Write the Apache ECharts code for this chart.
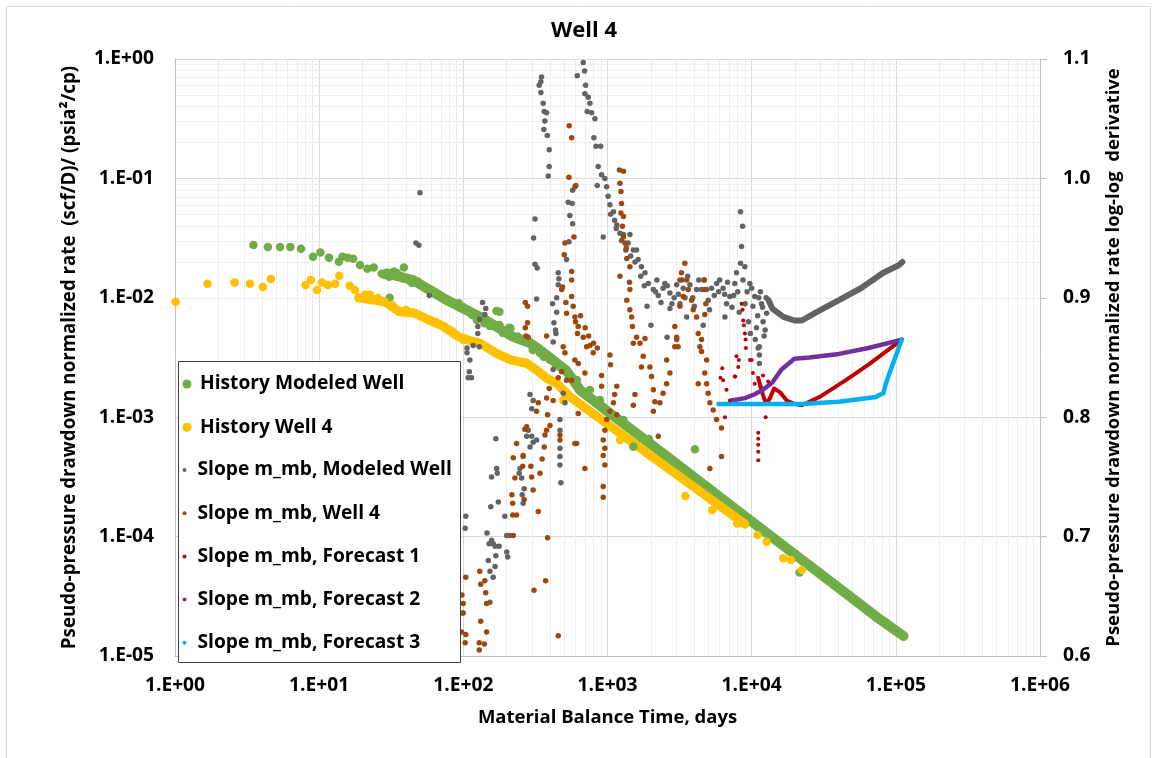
<!DOCTYPE html>
<html><head><meta charset="utf-8">
<script src="https://cdn.jsdelivr.net/npm/echarts@6/dist/echarts.min.js"></script>
<style>html,body{margin:0;padding:0;background:#fff}#c{width:1157px;height:758px}</style>
</head><body><div id="c"></div>
<script>
const chartTitle = 'Well 4';
const xTickLabels = ['1.E+00','1.E+01','1.E+02','1.E+03','1.E+04','1.E+05','1.E+06'];
const yTickLabels = ['1.E-05','1.E-04','1.E-03','1.E-02','1.E-01','1.E+00'];
const rightTickLabels = ['0.6','0.7','0.8','0.9','1.0','1.1'];
const xTitle = 'Material Balance Time, days';
const yTitle = 'Pseudo-pressure drawdown normalized rate  (scf/D)/ (psia\u00b2/cp)';
const y2Title = 'Pseudo-pressure drawdown normalized rate log-log  derivative';
const seriesNames = ['History Modeled Well','History Well 4','Slope m_mb, Modeled Well','Slope m_mb, Well 4','Slope m_mb, Forecast 1','Slope m_mb, Forecast 2','Slope m_mb, Forecast 3'];

// History Modeled Well (left axis): scattered points + dense band
const historyModeled = [[3.50,0.0277],[4.41,0.0266],[5.35,0.0266],[6.31,0.0266],[7.48,0.0258],[9.06,0.0221],[10.2,0.0239],[11.7,0.0217],[13.7,0.0200],[14.5,0.0221],[15.8,0.0217],[17.2,0.0212],[19.2,0.0188],[21.6,0.0175],[23.9,0.0179],[27.2,0.0159],[28.6,0.0155],[30.6,0.0150],[30.8,0.0100],[33.0,0.0166],[34.6,0.0161],[38.7,0.0179],[38.3,0.0145],[42.6,0.0138],[44.0,0.0133],[48.4,0.0136],[54.6,0.0120],[58.7,0.0116],[65.2,0.0109],[69.9,0.0104],[77.8,0.0096],[83.4,0.00922],[92.8,0.0090],[99.4,0.00838],[108,0.0079],[115,0.00718],[124,0.00652],[140,0.00611],[153,0.00581],[170,0.00775],[178,0.00765],[178,0.00592],[188,0.00507],[208,0.00562],[212,0.00556],[239,0.00472],[267,0.00443],[303,0.00366],[340,0.00345],[361,0.00321],[399,0.00301],[432,0.00283],[468,0.00263],[515,0.00248],[614,0.00205],[755,0.00169],[886,0.00139],[1290,0.000947],[1510,0.000566],[1940,0.000657],[4040,0.000538],[21500,0.0000500]];
const historyModeledBand = [[29.4,0.0160],[44.7,0.0141],[58.7,0.0116],[76.6,0.00959],[94.7,0.00842],[130,0.00695],[170,0.00573],[221,0.00472],[290,0.00418],[340,0.00366],[515,0.00248],[644,0.00169],[1040,0.00108],[1970,0.000601],[3730,0.000334],[7060,0.000185],[13400,0.000102],[22300,0.0000640],[40300,0.0000371],[72600,0.0000215],[113000,0.0000147]];

// History Well 4 (left axis)
const historyWell4 = [[1.01,0.00927],[1.68,0.0131],[2.59,0.0134],[3.31,0.0131],[4.07,0.0123],[4.63,0.0144],[8.05,0.0128],[8.75,0.0141],[9.66,0.0116],[10.45,0.0134],[11.5,0.0128],[12.9,0.0131],[13.8,0.0153],[16.3,0.0126],[17.7,0.0116],[18.8,0.0100],[20.8,0.0106],[22.5,0.0106],[25.6,0.00996],[28.5,0.00927],[32.0,0.00871],[36.1,0.00765],[40.0,0.00790],[45.7,0.00746],[50.0,0.00704],[57.8,0.00652],[64.6,0.00627],[73.4,0.00573],[83.4,0.00527],[92.8,0.00472],[100,0.00443],[493,0.00139],[679,0.00122],[1220,0.000644],[3470,0.000219],[5330,0.000167],[7920,0.000129],[11000,0.000103],[12700,0.0000906],[16600,0.0000658],[18700,0.0000637],[22300,0.0000525]];
const historyWell4Band = [[18.8,0.0100],[28.5,0.00927],[36.1,0.00765],[45.7,0.00746],[57.8,0.00652],[73.4,0.00573],[92.8,0.00472],[108,0.00443],[130,0.00418],[170,0.00343],[216,0.00301],[275,0.00283],[322,0.00248],[378,0.00212],[444,0.00192],[548,0.00149],[1040,0.000847],[1970,0.000482],[3730,0.000275],[7060,0.000157],[8970,0.000127]];

// Slope m_mb, Modeled Well (right axis)
const slopeModeled = [[50.0,0.988],[46.9,0.946],[49.2,0.944],[58.0,0.902],[136,0.896],[143,0.891],[130,0.882],[141,0.886],[126,0.876],[126,0.870],[106,0.858],[117,0.860],[129,0.859],[106,0.854],[111,0.848],[110,0.838],[108,0.833],[114,0.833],[168,0.782],[170,0.757],[157,0.750],[172,0.753],[175,0.729],[155,0.725],[104,0.717],[103,0.707],[146,0.703],[194,0.717],[200,0.701],[210,0.701],[157,0.697],[161,0.694],[166,0.692],[151,0.694],[177,0.692],[200,0.687],[203,0.683],[168,0.684],[149,0.680],[166,0.675],[153,0.671],[161,0.666],[153,0.645],[99.8,0.636],
[290,0.819],[305,0.814],[298,0.807],[282,0.789],[275,0.784],[298,0.784],[305,0.779],[322,0.781],[290,0.775],[260,0.767],[247,0.757],[244,0.753],[254,0.749],[264,0.740],[256,0.735],[260,0.728],[468,0.789],[468,0.774],[468,0.767],[468,0.760],[475,0.745],[468,0.798],[420,0.840],[493,0.820],[507,0.812],
[349,1.085],[345,1.081],[336,1.078],[345,1.072],[358,1.063],[364,1.056],[378,1.055],[368,1.048],[362,1.041],[382,1.036],[394,1.024],[394,1.010],[388,1.002],[314,0.966],[307,0.950],[314,0.928],[325,0.925],[322,0.899],[455,0.921],[460,0.916],[455,0.911],[444,0.900],[416,0.895],[444,0.888],[425,0.879],[439,0.870],[420,0.863],[436,0.873],
[617,1.086],[604,0.994],[573,0.990],[534,0.980],[569,0.979],[548,0.969],[573,0.962],[540,0.947],[520,0.932],
[679,1.097],[694,1.090],[705,1.078],[697,1.071],[735,1.068],[755,1.063],[723,1.056],[776,1.055],[818,1.050],[805,1.034],[832,1.027],[896,1.027],[861,1.010],[910,1.003],[959,1.000],[849,0.994],[986,0.993],[1010,0.985],[1040,0.978],[1100,0.972],[1120,0.965],[1160,0.961],[1220,0.954],[1290,0.953],[1430,0.953],[1390,0.946],[934,0.951],[1510,0.940],[1590,0.940],[1630,0.932],[1720,0.926],[1820,0.921],[1920,0.912],[2080,0.907],[2250,0.902],[2430,0.908],[2710,0.904],[3020,0.911],[3350,0.908],[3730,0.911],[4150,0.907],[4490,0.907],[4870,0.907],[5270,0.908],[5710,0.912],[6340,0.908],[6690,0.895],[6520,0.884],[7060,0.901],[7640,0.912],[7850,0.921],[8370,0.929],[8500,0.943],[8650,0.960],[8370,0.972],[8970,0.926],[9720,0.912],[10500,0.901],[11700,0.895],[12700,0.887],[12400,0.873],[11100,0.858],
[1880,0.893],[2590,0.867],[2000,0.877],[4610,0.877],[3540,0.884],[2710,0.891],[3180,0.895],[11300,0.859],[11300,0.852],[11300,0.845],
[2200,0.915],[2500,0.912],[2900,0.900],[3300,0.915],[3900,0.900],[4300,0.915],[5000,0.898],[5500,0.902],[6000,0.915],[6500,0.903],[7300,0.892],[8000,0.905],[9000,0.895],[10000,0.908],[11000,0.885],[11500,0.905],[12000,0.880],
[1050,0.970],[1150,0.958],[1250,0.948],[1350,0.942],[1450,0.935],[1550,0.930],[1700,0.918],[1800,0.910],[2150,0.905],[2350,0.896],[2600,0.910],[2800,0.895],[3100,0.903],[3450,0.900],[3600,0.918],[4000,0.893],[4700,0.915],[5100,0.890],[5900,0.905],[6800,0.913],[7500,0.902],[8200,0.888],[8700,0.915],[9300,0.905],[9500,0.880],[10200,0.893],[10800,0.875],[11200,0.900],[11900,0.892],[12200,0.868],[12600,0.900],[9800,0.870],[10600,0.865]];
const slopeModeledTail = [[13100,0.898],[13900,0.891],[16600,0.884],[19800,0.881],[22300,0.881],[28200,0.888],[40300,0.898],[57200,0.908],[81800,0.921],[104000,0.927],[111000,0.930]];

// Slope m_mb, Well 4 (right axis)
const slopeWell4 = [[104,0.666],[130,0.671],[132,0.660],[141,0.663],[143,0.653],[145,0.644],[97.8,0.651],[99.8,0.644],[98.9,0.636],[97.3,0.620],[104,0.618],[103,0.611],[129,0.611],[140,0.610],[129,0.605],[145,0.620],[132,0.629],
[217,0.735],[220,0.728],[220,0.718],[222,0.701],[228,0.749],[234,0.718],[222,0.766],[234,0.778],[260,0.768],[258,0.759],[264,0.731],[267,0.790],[275,0.792],[305,0.739],[298,0.750],[294,0.759],[340,0.753],[331,0.721],[352,0.765],[364,0.775],[368,0.785],[378,0.789],[399,0.793],[384,0.802],[331,0.812],[322,0.805],[468,0.785],[468,0.781],[384,0.699],[372,0.663],[309,0.655],[455,0.617],[378,0.816],[420,0.814],[394,0.824],[455,0.833],[481,0.838],[520,0.831],[564,0.831],[611,0.778],[627,0.803],[507,0.854],[493,0.859],
[269,0.896],[279,0.893],[279,0.879],[269,0.875],[272,0.868],[282,0.867],[378,0.868],[488,0.909],[481,0.907],[507,0.946],[501,0.936],[540,1.001],[542,1.044],[564,1.034],[514,0.896],[520,0.887],
[564,0.922],[564,0.915],[564,0.901],[578,0.893],[594,0.884],[627,0.876],[679,0.867],[755,0.860],[594,0.993],[585,0.951],[600,0.880],[620,0.870],[650,0.885],[700,0.875],[740,0.868],[800,0.862],[850,0.858],
[1210,1.007],[1290,1.006],[1220,0.996],[1240,0.989],[1250,0.979],[1240,0.971],[1290,0.968],[1270,0.960],[1290,0.951],[1320,0.946],[1340,0.940],[1360,0.933],[1430,0.926],[1220,0.918],[1420,0.913],[1430,0.907],[1360,0.898],[1430,0.890],[1470,0.884],[1490,0.876],[1590,0.867],[1680,0.862],[1820,0.866],
[2930,0.876],[3020,0.867],[3090,0.859],[3180,0.915],[3260,0.921],[3440,0.929],[3540,0.915],[3350,0.901],[3180,0.893],[3630,0.907],[3830,0.898],[3930,0.890],[4150,0.884],[4260,0.870],[4490,0.865],[4660,0.915],[4730,0.907],[4810,0.895],[4730,0.886],
[716,0.859],[796,0.854],[594,0.848],[697,0.837],[627,0.845],[1040,0.852],[1050,0.844],[910,0.835],[910,0.826],[1160,0.826],[1120,0.819],[1100,0.812],[1040,0.805],[986,0.798],[959,0.789],[934,0.781],[959,0.774],[934,0.768],[959,0.760],[934,0.742],[934,0.733],[594,0.778],[697,0.757],[1160,0.802],[1510,0.862],[1770,0.851],[1720,0.842],[1970,0.842],[2020,0.834],[2080,0.823],[2130,0.813],[2080,0.805],[2250,0.784],[2570,0.848],[2710,0.837],[2570,0.828],[2430,0.820],[2310,0.812],[2930,0.859],[3020,0.865],[4370,0.859],[4490,0.855],[4870,0.848],[4730,0.837],[4870,0.828],[4990,0.820],[5130,0.812],[5410,0.806],[5710,0.798],[6180,0.791],[6180,0.767],[5130,0.757],[4260,0.828],[1550,0.819],[1510,0.810]];

// Slope m_mb, Forecast 1 (right axis): scattered dots + trace
const forecast1 = [[8510,0.895],[8650,0.890],[8730,0.881],[8830,0.877],[8970,0.870],[9080,0.865],[9120,0.858],[7850,0.851],[8070,0.842],[7640,0.834],[6340,0.831],[6690,0.823],[7060,0.814],[6520,0.800],[9720,0.848],[10200,0.837],[10500,0.828],[12500,0.800],[11100,0.787],[11100,0.782],[11100,0.777],[11100,0.771],[11100,0.764],[8150,0.848],[6250,0.841],[6080,0.833],[7680,0.834],[10000,0.848],[11500,0.826],[12000,0.835],[13000,0.830]];
const forecast1Trace = [[11100,0.833],[11800,0.821],[12600,0.811],[13400,0.816],[14300,0.824],[15700,0.821],[17500,0.814],[19900,0.811],[22300,0.810],[29700,0.817],[45000,0.831],[64600,0.844],[110000,0.865]];
// Slope m_mb, Forecast 2
const forecast2 = [[7260,0.814],[8970,0.816],[10400,0.819],[12000,0.823],[13900,0.829],[16100,0.840],[19800,0.849],[25100,0.850],[40300,0.853],[64600,0.858],[110000,0.865]];
// Slope m_mb, Forecast 3
const forecast3 = [[5890,0.811],[12400,0.811],[22300,0.811],[40300,0.813],[72600,0.817],[81800,0.820],[86700,0.831],[97700,0.848],[110000,0.865]];

// minor log grid positions (axis structure)
const minorX = []; for (let e = 0; e < 6; e++) for (let m = 2; m <= 9; m++) minorX.push(m * Math.pow(10, e));
const minorY = []; for (let e = -5; e < 0; e++) for (let m = 2; m <= 9; m++) minorY.push(m * Math.pow(10, e));

const FONT = 'Open Sans';
const meas = document.createElement('canvas').getContext('2d');
function textW(t, size) { meas.font = 'bold ' + size + 'px "' + FONT + '"'; return meas.measureText(t).width; }
function fit(t, target) { return Math.round(100 * target / textW(t, 100) * 10) / 10; }
const fsTick = fit('1.E+00', 60);
const fsLegend = fit('Slope m_mb, Modeled Well', 254);
const fsXTitle = fit(xTitle, 259);
const fsYTitle = fit(yTitle, 583);
const fsY2Title = fit(y2Title, 580);
const fsTitle = fit(chartTitle, 66);
const titleW = textW(chartTitle, fsTitle);

const txt = (size) => ({fontFamily: FONT, fontWeight: 'bold', fontSize: size, color: '#000'});
const C = {green:'#70ad47', yellow:'#ffc000', grey:'#636363', brown:'#9e480e', red:'#c00000', purple:'#7030a0', blue:'#00b0f0'};
const dot = (c) => ({color: c, opacity: 1, borderWidth: 0});

const chart = echarts.init(document.getElementById('c'), null, {renderer: 'canvas'});
chart.setOption({
  animation: false,
  backgroundColor: '#fff',
  title: {text: chartTitle, left: Math.round(584 - titleW / 2), top: Math.round(35 - fsTitle * 0.68), padding: 0, textStyle: txt(fsTitle)},
  grid: {left: 175, right: 117, top: 59, bottom: 102},
  xAxis: {type: 'log', logBase: 10, min: 1, max: 1e6,
    axisLine: {show: true, lineStyle: {color: '#bfbfbf', width: 1}},
    axisTick: {show: false},
    axisLabel: Object.assign(txt(fsTick), {margin: 20, formatter: v => xTickLabels[Math.round(Math.log10(v))]}),
    splitLine: {show: true, lineStyle: {color: '#d9d9d9', width: 1}},
    name: xTitle, nameLocation: 'middle', nameGap: 52, nameTextStyle: txt(fsXTitle)},
  yAxis: [
    {type: 'log', logBase: 10, min: 1e-5, max: 1, position: 'left',
     axisLine: {show: true, lineStyle: {color: '#bfbfbf', width: 1}},
     axisTick: {show: false},
     axisLabel: Object.assign(txt(fsTick), {margin: 21, formatter: v => yTickLabels[Math.round(Math.log10(v)) + 5]}),
     splitLine: {show: true, lineStyle: {color: '#d9d9d9', width: 1}},
     name: yTitle, nameLocation: 'middle', nameGap: 96, nameRotate: 90, nameTextStyle: txt(fsYTitle)},
    {type: 'value', min: 0.6, max: 1.1, interval: 0.1, position: 'right',
     axisLine: {show: true, lineStyle: {color: '#bfbfbf', width: 1}},
     axisTick: {show: true, length: 7, lineStyle: {color: '#bfbfbf'}},
     axisLabel: Object.assign(txt(fsTick), {margin: 23, formatter: v => rightTickLabels[Math.round((v - 0.6) * 10)]}),
     splitLine: {show: false},
     name: y2Title, nameLocation: 'middle', nameGap: 64, nameRotate: 90, nameTextStyle: txt(fsY2Title)}
  ],
  legend: [
    {data: seriesNames.slice(0, 2).map(n => ({name: n, icon: 'circle'})), orient: 'vertical', left: 182.5, top: 374, padding: 0,
     itemWidth: 16, itemHeight: 9, itemGap: 23.2, textStyle: Object.assign(txt(fsLegend), {lineHeight: 20}), z: 30, selectedMode: false},
    {data: seriesNames.slice(2).map(n => ({name: n, icon: 'circle'})), orient: 'vertical', left: 182.5, top: 460, padding: 0,
     itemWidth: 16, itemHeight: 4, itemGap: 23.2, textStyle: Object.assign(txt(fsLegend), {lineHeight: 20}), z: 30, selectedMode: false}
  ],
  graphic: [
    {type: 'rect', shape: {x: 6.5, y: 6.5, width: 1144, height: 760}, style: {fill: 'none', stroke: '#d9d9d9', lineWidth: 1}, z: -10, silent: true},
    {type: 'rect', shape: {x: 178.5, y: 361.5, width: 282, height: 301}, style: {fill: '#fff', stroke: '#404040', lineWidth: 1}, z: 20, silent: true}
  ],
  series: [
    {name: 'minor-grid', type: 'line', data: [], xAxisIndex: 0, yAxisIndex: 0, z: 0, zlevel: 0, silent: true,
     markLine: {silent: true, z: 0, zlevel: 0, symbol: ['none', 'none'], label: {show: false}, animation: false,
       lineStyle: {color: '#ededed', type: 'solid', width: 1},
       emphasis: {disabled: true},
       data: minorX.map(v => ({xAxis: v})).concat(minorY.map(v => ({yAxis: v})))}},
    {name: 'green-band', type: 'line', data: historyModeledBand, yAxisIndex: 0, showSymbol: false, silent: true, z: 2,
     lineStyle: {color: C.green, width: 10, cap: 'round', join: 'round'}},
    {name: seriesNames[0], type: 'scatter', data: historyModeled, yAxisIndex: 0, symbolSize: 8.5, itemStyle: dot(C.green), emphasis: {disabled: true}, z: 2},
    {name: 'yellow-band', type: 'line', data: historyWell4Band, yAxisIndex: 0, showSymbol: false, silent: true, z: 2,
     lineStyle: {color: C.yellow, width: 9, cap: 'round', join: 'round'}},
    {name: seriesNames[1], type: 'scatter', data: historyWell4, yAxisIndex: 0, symbolSize: 8.5, itemStyle: dot(C.yellow), emphasis: {disabled: true}, z: 2},
    {name: seriesNames[2], type: 'scatter', data: slopeModeled, yAxisIndex: 1, symbolSize: 5.5, itemStyle: dot(C.grey), emphasis: {disabled: true}, z: 2},
    {name: 'grey-tail', type: 'line', data: slopeModeledTail, yAxisIndex: 1, showSymbol: false, silent: true, z: 2,
     lineStyle: {color: C.grey, width: 6, cap: 'round', join: 'round'}},
    {name: seriesNames[3], type: 'scatter', data: slopeWell4, yAxisIndex: 1, symbolSize: 5.5, itemStyle: dot(C.brown), emphasis: {disabled: true}, z: 2},
    {name: seriesNames[4], type: 'scatter', data: forecast1, yAxisIndex: 1, symbolSize: 4, itemStyle: dot(C.red), emphasis: {disabled: true}, z: 2},
    {name: 'forecast1-trace', type: 'line', data: forecast1Trace, yAxisIndex: 1, showSymbol: false, silent: true, z: 2,
     lineStyle: {color: C.red, width: 4, cap: 'round', join: 'round'}},
    {name: seriesNames[5], type: 'line', data: forecast2, yAxisIndex: 1, showSymbol: false, itemStyle: {color: C.purple}, z: 2,
     lineStyle: {color: C.purple, width: 4.5, cap: 'round', join: 'round'}},
    {name: seriesNames[6], type: 'line', data: forecast3, yAxisIndex: 1, showSymbol: false, itemStyle: {color: C.blue}, z: 2,
     lineStyle: {color: C.blue, width: 4.5, cap: 'round', join: 'round'}}
  ]
});
</script></body></html>
